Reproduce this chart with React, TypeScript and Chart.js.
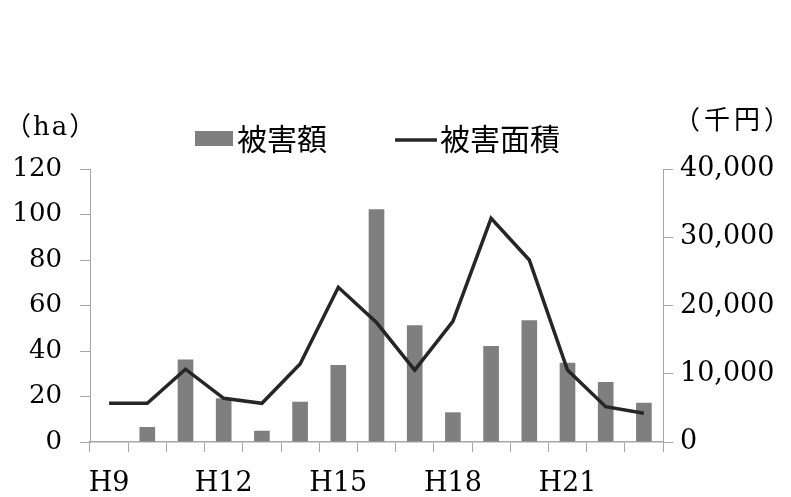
import React, { useEffect, useRef } from "react";
import { Chart, registerables } from "chart.js";

Chart.register(...registerables);

const categories = ["H9", "H10", "H11", "H12", "H13", "H14", "H15", "H16", "H17", "H18", "H19", "H20", "H21", "H22", "H23"];
const damageAmount = [0, 2200, 12100, 6400, 1650, 5900, 11300, 34100, 17100, 4350, 14050, 17850, 11600, 8800, 5750];
const damageArea = [17, 17, 32, 19.2, 17, 34.3, 68, 52.5, 31.6, 53, 98.3, 80, 31.6, 15.5, 12.6];
const leftTicks = { min: 0, max: 120, step: 20 };
const rightTicks = { min: 0, max: 40000, step: 10000 };
const barLabel = "被害額";
const lineLabel = "被害面積";
const leftTitle = "（ha）";
const rightTitle = "（千円）";

const BAR_COLOR = "#7f7f7f";
const LINE_COLOR = "#262626";
const AXIS_COLOR = "#a6a6a6";
const SERIF = "'DejaVu Serif', 'Noto Sans CJK JP', serif";

const overlayPlugin = {
  id: "overlay",
  afterDraw(chart: any) {
    const ctx = chart.ctx;
    ctx.save();
    ctx.fillStyle = "#000";
    ctx.textBaseline = "middle";
    // axis titles
    ctx.font = `26px ${SERIF}`;
    ctx.textAlign = "left";
    (ctx as any).letterSpacing = "2px";
    ctx.fillText(leftTitle, 5, 128);
    (ctx as any).letterSpacing = "4px";
    ctx.fillText(rightTitle, 674, 122);
    (ctx as any).letterSpacing = "0px";
    // legend
    ctx.fillStyle = BAR_COLOR;
    ctx.fillRect(195, 131, 38, 15);
    ctx.strokeStyle = LINE_COLOR;
    ctx.lineWidth = 3.5;
    ctx.beginPath();
    ctx.moveTo(395, 140);
    ctx.lineTo(437, 140);
    ctx.stroke();
    ctx.fillStyle = "#000";
    ctx.font = `30px 'Noto Sans CJK JP', sans-serif`;
    ctx.fillText(barLabel, 237, 139);
    ctx.fillText(lineLabel, 440, 139);
    ctx.restore();
  },
};

export default function App() {
  const ref = useRef<HTMLCanvasElement | null>(null);
  useEffect(() => {
    if (!ref.current) return;
    const chart = new Chart(ref.current, {
      type: "bar",
      data: {
        labels: categories,
        datasets: [
          {
            type: "line",
            label: lineLabel,
            data: damageArea,
            yAxisID: "y",
            borderColor: LINE_COLOR,
            backgroundColor: LINE_COLOR,
            borderWidth: 3.5,
            pointRadius: 0,
            tension: 0,
            order: 0,
          },
          {
            type: "bar",
            label: barLabel,
            data: damageAmount,
            yAxisID: "y1",
            backgroundColor: BAR_COLOR,
            borderWidth: 0,
            categoryPercentage: 1,
            barPercentage: 0.41,
            order: 1,
          },
        ],
      } as any,
      options: {
        responsive: false,
        animation: false,
        layout: { padding: { top: 169, left: 0, right: 0, bottom: 0 } },
        plugins: {
          legend: { display: false },
          tooltip: { enabled: false },
        },
        scales: {
          x: {
            offset: true,
            grid: { display: true, drawOnChartArea: false, drawTicks: true, tickLength: 10, offset: true, color: AXIS_COLOR },
            border: { display: true, color: AXIS_COLOR, width: 1.5 },
            ticks: {
              autoSkip: false,
              maxRotation: 0,
              padding: 16,
              color: "#000",
              font: { family: SERIF, size: 27 },
              callback: (_v: any, i: number) => (i % 3 === 0 ? categories[i] : ""),
            },
            afterFit: (s: any) => {
              s.height = 55;
            },
          },
          y: {
            position: "left",
            min: leftTicks.min,
            max: leftTicks.max,
            grid: { display: true, drawOnChartArea: false, drawTicks: true, tickLength: 10, color: AXIS_COLOR },
            border: { display: true, color: AXIS_COLOR, width: 1 },
            ticks: { stepSize: leftTicks.step, padding: 18, color: "#000", font: { family: SERIF, size: 26 } },
            afterFit: (s: any) => {
              s.width = 90;
            },
          },
          y1: {
            position: "right",
            min: rightTicks.min,
            max: rightTicks.max,
            grid: { display: true, drawOnChartArea: false, drawTicks: true, tickLength: 10, color: AXIS_COLOR },
            border: { display: true, color: AXIS_COLOR, width: 1 },
            ticks: {
              stepSize: rightTicks.step,
              padding: 7,
              color: "#000",
              font: { family: SERIF, size: 27 },
              callback: (v: any) => Number(v).toLocaleString("en-US"),
            },
            afterFit: (s: any) => {
              s.width = 128;
            },
          },
        },
      } as any,
      plugins: [overlayPlugin],
    });
    return () => chart.destroy();
  }, []);
  return (
    <div style={{ position: "absolute", left: 0, top: 0, width: 791, height: 497, background: "#fff" }}>
      <canvas ref={ref} width={791} height={497} />
    </div>
  );
}
